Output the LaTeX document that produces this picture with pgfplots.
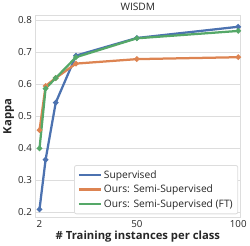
\documentclass[border=0pt]{standalone}
\usepackage{fontspec}
\setmainfont{Open Sans}
\usepackage{pgfplots}
\pgfplotsset{compat=1.18}
\definecolor{sbblue}{HTML}{4C72B0}
\definecolor{sborange}{HTML}{DD8452}
\definecolor{sbgreen}{HTML}{55A868}
\definecolor{gridc}{HTML}{DDDDDD}
\begin{document}
\begin{tikzpicture}
\begin{axis}[
  scale only axis,
  width=200pt, height=197pt,
  xmin=0, xmax=101, ymin=0.185, ymax=0.815,
  xtick={2,50,100},
  ytick={0.2,0.3,0.4,0.5,0.6,0.7,0.8},
  yticklabel style={/pgf/number format/fixed,/pgf/number format/precision=1},
  /pgf/number format/assume math mode=true,
  tick label style={font=\fontsize{9.5}{11}\selectfont, text=black!85},
  title={WISDM},
  title style={font=\fontsize{10}{12}\selectfont, text=black!85, yshift=-5pt},
  xlabel={\bfseries\# Training instances per class},
  ylabel={\bfseries Kappa},
  label style={font=\fontsize{11}{13}\selectfont, text=black!85},
  xlabel style={yshift=4pt},
  ylabel style={yshift=-3pt},
  axis line style={gridc, line width=1.2pt},
  ymajorgrids, major grid style={gridc, line width=0.8pt},
  tick style={draw=none},
  legend style={at={(0.99,0.015)}, anchor=south east, font=\fontsize{10}{12}\selectfont, text=black!85, draw=gridc, line width=0.8pt, rounded corners=2pt, row sep=1pt, inner sep=3pt},
  legend cell align=left,
  legend image code/.code={\draw[#1, mark=none, line width=2.4pt] (0cm,0cm) -- (0.75cm,0cm);},
  every axis plot/.append style={line width=2.2pt, mark=*, mark size=1.4pt},
]
\addplot[sbblue, mark options={fill=sbblue}] coordinates {(2,0.21) (5,0.365) (10,0.543) (20,0.69) (50,0.745) (100,0.78)};
\addlegendentry{Supervised}
\addplot[sborange, mark options={fill=sborange}] coordinates {(2,0.457) (5,0.595) (10,0.62) (20,0.665) (50,0.679) (100,0.685)};
\addlegendentry{Ours: Semi-Supervised}
\addplot[sbgreen, mark options={fill=sbgreen}] coordinates {(2,0.40) (5,0.587) (10,0.62) (20,0.685) (50,0.744) (100,0.767)};
\addlegendentry{Ours: Semi-Supervised (FT)}
\end{axis}
\end{tikzpicture}
\end{document}
